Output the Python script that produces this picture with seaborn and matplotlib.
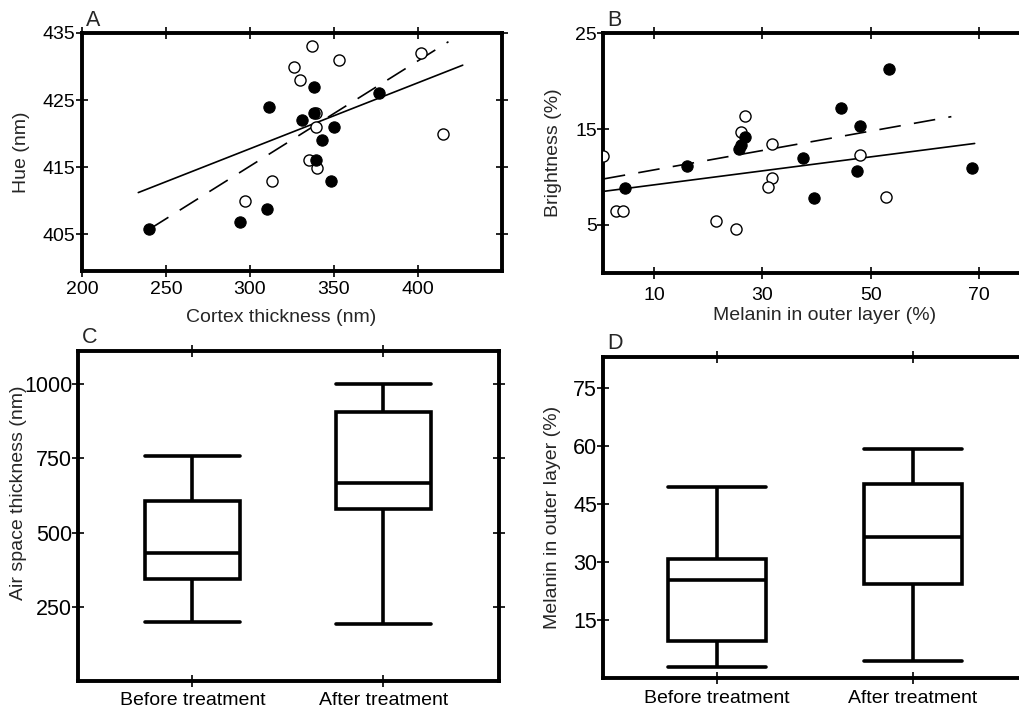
import pandas as pd
import seaborn as sns
import matplotlib.pyplot as plt

# ---- panel A : hue vs cortex thickness ----
a_filled_x = [240, 294, 310, 311, 331, 338, 338, 350, 343, 339, 348, 377]
a_filled_y = [405.8, 406.8, 408.8, 424.0, 422.0, 427.0, 423.1, 421.0, 419.0, 416.0, 412.9, 426.0]
a_open_x = [337, 326, 330, 353, 402, 339, 339, 335, 340, 313, 297, 415]
a_open_y = [433.1, 430.0, 428.0, 431.0, 432.0, 423.0, 421.0, 416.0, 414.9, 412.9, 409.9, 420.0]
a_solid_x = [233.5, 426.6]
a_solid_y = [411.2, 430.2]
a_dash_x = [240.5, 418.1]
a_dash_y = [405.8, 433.7]

# ---- panel B : brightness vs melanin ----
b_filled_x = [4.6, 16.0, 25.6, 26.1, 26.8, 37.5, 39.5, 44.5, 48.0, 47.5, 53.3, 68.8]
b_filled_y = [8.9, 11.1, 12.9, 13.3, 14.2, 12.0, 7.8, 17.2, 15.3, 10.6, 21.3, 10.9]
b_open_x = [0.6, 2.9, 4.2, 21.4, 25.1, 26.7, 26.1, 31.7, 31.8, 31.0, 48.0, 52.9]
b_open_y = [12.2, 6.4, 6.4, 5.4, 4.6, 16.4, 14.7, 13.4, 9.9, 9.0, 12.3, 7.9]
b_solid_x = [0.7, 69.2]
b_solid_y = [8.5, 13.5]
b_dash_x = [0.7, 64.9]
b_dash_y = [9.8, 16.3]

# ---- panels C, D : five-number summaries (min, q1, median, q3, max) ----
groups = ['Before treatment', 'After treatment']
c_before = [197, 342, 431, 606, 759]
c_after = [192, 578, 666, 907, 1000]
d_before = [2.9, 9.6, 25.5, 30.9, 49.3]
d_after = [4.5, 24.3, 36.4, 50.1, 59.1]

sns.set_style('ticks')
plt.rcParams['font.family'] = ['Liberation Sans', 'DejaVu Sans']

fig = plt.figure(figsize=(10.2, 7.08), dpi=100)
ax_a = fig.add_axes([0.0804, 0.6172, 0.4118, 0.3362])
ax_b = fig.add_axes([0.5909, 0.6148, 0.4140, 0.3381])
ax_c = fig.add_axes([0.0762, 0.0386, 0.4133, 0.4657])
ax_d = fig.add_axes([0.5909, 0.0419, 0.4140, 0.4542])


def style_axes(ax, xpad, ypad, xsize=14, ysize=14):
    for sp in ax.spines.values():
        sp.set_visible(True)
        sp.set_linewidth(2.8)
        sp.set_color('black')
    ax.tick_params(direction='inout', length=8, width=1.2, top=True, right=True,
                   color='black', labelcolor='black')
    ax.tick_params(axis='x', pad=xpad, labelsize=xsize)
    ax.tick_params(axis='y', pad=ypad, labelsize=ysize)


def panel_letter(ax, letter):
    ax.text(0.01, 1.008, letter, transform=ax.transAxes, fontsize=15.5,
            ha='left', va='bottom')


def place_labels(ax, xlabel, ylabel, xpos, ypos):
    ax.set_xlabel(xlabel, fontsize=14)
    ax.set_ylabel(ylabel, fontsize=14)
    ax.xaxis.label.set_va('center')
    ax.yaxis.label.set_va('center')
    if xpos is not None:
        ax.xaxis.set_label_coords(*xpos)
    ax.yaxis.set_label_coords(*ypos)


def scatter_panel(ax, fx, fy, ox, oy, sx, sy, dx, dy):
    sns.lineplot(x=sx, y=sy, color='black', linewidth=1.2, ax=ax, zorder=2)
    sns.lineplot(x=dx, y=dy, color='black', linewidth=1.2, linestyle=(0, (13, 8)),
                 ax=ax, zorder=2)
    sns.scatterplot(x=ox, y=oy, color='white', edgecolor='black', linewidth=1.0,
                    s=64, ax=ax, zorder=3)
    sns.scatterplot(x=fx, y=fy, color='black', edgecolor='black', linewidth=0.8,
                    s=66, ax=ax, zorder=4)


# A
scatter_panel(ax_a, a_filled_x, a_filled_y, a_open_x, a_open_y,
              a_solid_x, a_solid_y, a_dash_x, a_dash_y)
ax_a.set_xlim(200, 450)
ax_a.set_ylim(399.5, 435)
ax_a.set_xticks([200, 250, 300, 350, 400])
ax_a.set_yticks([405, 415, 425, 435])
style_axes(ax_a, xpad=3.5, ypad=1)
place_labels(ax_a, 'Cortex thickness (nm)', 'Hue (nm)', (0.474, -0.197), (-0.144, 0.5))
panel_letter(ax_a, 'A')

# B
scatter_panel(ax_b, b_filled_x, b_filled_y, b_open_x, b_open_y,
              b_solid_x, b_solid_y, b_dash_x, b_dash_y)
ax_b.set_xlim(0.5, 78.5)
ax_b.set_ylim(0, 25)
ax_b.set_xticks([10, 30, 50, 70])
ax_b.set_yticks([5, 15, 25])
style_axes(ax_b, xpad=6.5, ypad=0)
place_labels(ax_b, 'Melanin in outer layer (%)', 'Brightness (%)', (0.526, -0.178), (-0.117, 0.5))
panel_letter(ax_b, 'B')


def box_panel(ax, before, after):
    df = pd.DataFrame({'group': [groups[0]] * len(before) + [groups[1]] * len(after),
                       'value': before + after})
    sns.boxplot(data=df, x='group', y='value', order=groups, whis=(0, 100),
                width=0.5, color='white', linecolor='black', linewidth=2.6,
                capwidths=0.5, ax=ax)


# C
box_panel(ax_c, c_before, c_after)
ax_c.set_xlim(-0.6, 1.607)
ax_c.set_ylim(0, 1113)
ax_c.set_yticks([250, 500, 750, 1000])
style_axes(ax_c, xpad=4, ypad=0, xsize=14, ysize=15.5)
place_labels(ax_c, '', 'Air space thickness (nm)', None, (-0.141, 0.57))
panel_letter(ax_c, 'C')

# D
box_panel(ax_d, d_before, d_after)
ax_d.set_xlim(-0.584, 1.574)
ax_d.set_ylim(0, 83)
ax_d.set_yticks([15, 30, 45, 60, 75])
style_axes(ax_d, xpad=4.5, ypad=0, xsize=14, ysize=15.5)
place_labels(ax_d, '', 'Melanin in outer layer (%)', None, (-0.118, 0.5))
panel_letter(ax_d, 'D')

fig.savefig('out.png', dpi=100)
